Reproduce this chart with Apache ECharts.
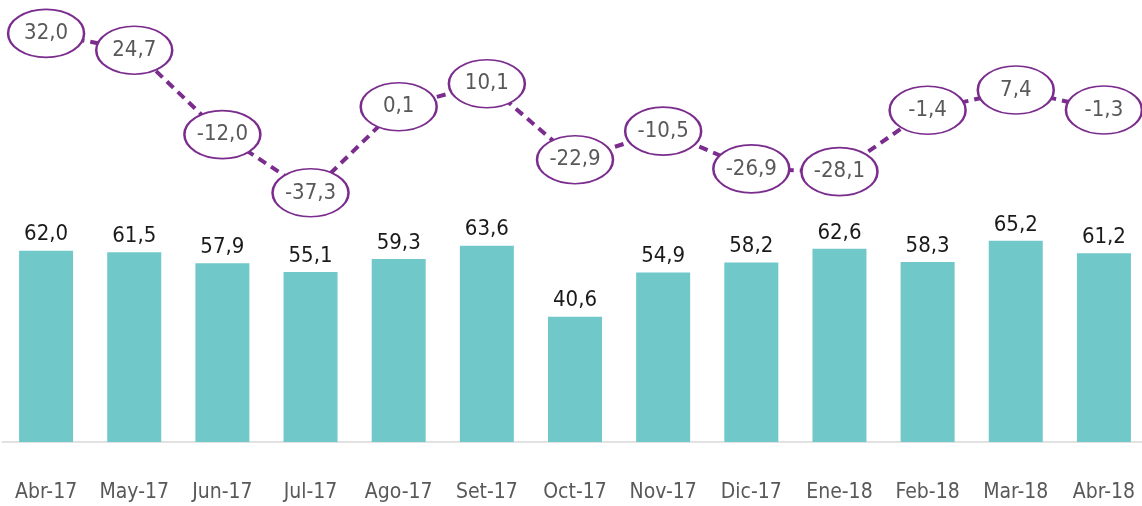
<!DOCTYPE html>
<html>
<head>
<meta charset="utf-8">
<script src="https://cdn.jsdelivr.net/npm/echarts@6/dist/echarts.min.js"></script>
<style>
html,body{margin:0;padding:0;background:#fff;}
#c{width:1142px;height:506px;}
</style>
</head>
<body>
<div id="c"></div>
<script>
var categories = ['Abr-17','May-17','Jun-17','Jul-17','Ago-17','Set-17','Oct-17','Nov-17','Dic-17','Ene-18','Feb-18','Mar-18','Abr-18'];
var barValues = [62.0, 61.5, 57.9, 55.1, 59.3, 63.6, 40.6, 54.9, 58.2, 62.6, 58.3, 65.2, 61.2];
var lineValues = [32.0, 24.7, -12.0, -37.3, 0.1, 10.1, -22.9, -10.5, -26.9, -28.1, -1.4, 7.4, -1.3];

var FONT = "'DejaVu Sans Condensed', 'Liberation Sans Narrow', sans-serif";
function fmt(v){ return v.toFixed(1).replace('.', ','); }

var chart = echarts.init(document.getElementById('c'), null, {renderer:'canvas'});
chart.setOption({
  animation: false,
  backgroundColor: '#ffffff',
  grid: [
    {left: 2, width: 1146, bottom: 64, height: 216, outerBoundsMode:'none', containLabel:false},
    {left: 2, width: 1146, top: 15, height: 207, outerBoundsMode:'none', containLabel:false}
  ],
  xAxis: [
    {type:'category', gridIndex:0, data: categories, boundaryGap: true,
     axisLine:{show:true, lineStyle:{color:'#d9d9d9', width:1.5}},
     axisTick:{show:false},
     axisLabel:{show:true, margin:40, color:'#595959', fontFamily:FONT, fontSize:21, interval:0, hideOverlap:false}},
    {type:'category', gridIndex:1, data: categories, boundaryGap: true,
     axisLine:{show:false}, axisTick:{show:false}, axisLabel:{show:false}}
  ],
  yAxis: [
    {type:'value', gridIndex:0, min:0, max:70, show:false, splitLine:{show:false}},
    {type:'value', gridIndex:1, min:-50, max:40, show:false, splitLine:{show:false}}
  ],
  series: [
    {type:'bar', xAxisIndex:0, yAxisIndex:0, data: barValues, barWidth:54,
     itemStyle:{color:'#71C8C9'},
     label:{show:true, position:'top', distance:5, color:'#1a1a1a', fontFamily:FONT, fontSize:22,
            formatter:function(p){return fmt(p.value);}}},
    {type:'line', xAxisIndex:1, yAxisIndex:1, data: lineValues,
     lineStyle:{color:'#7B2D8E', width:4, type:[9,6]},
     symbol:'path://M0,30 A50,30 0 1,1 100,30 A50,30 0 1,1 0,30 Z',
     symbolSize:[76,48],
     itemStyle:{color:'#ffffff', borderColor:'#7B2D8E', borderWidth:2},
     label:{show:true, position:'inside', color:'#595959', fontFamily:FONT, fontSize:22,
            formatter:function(p){return fmt(p.value);}},
     z:3}
  ]
});
</script>
</body>
</html>
